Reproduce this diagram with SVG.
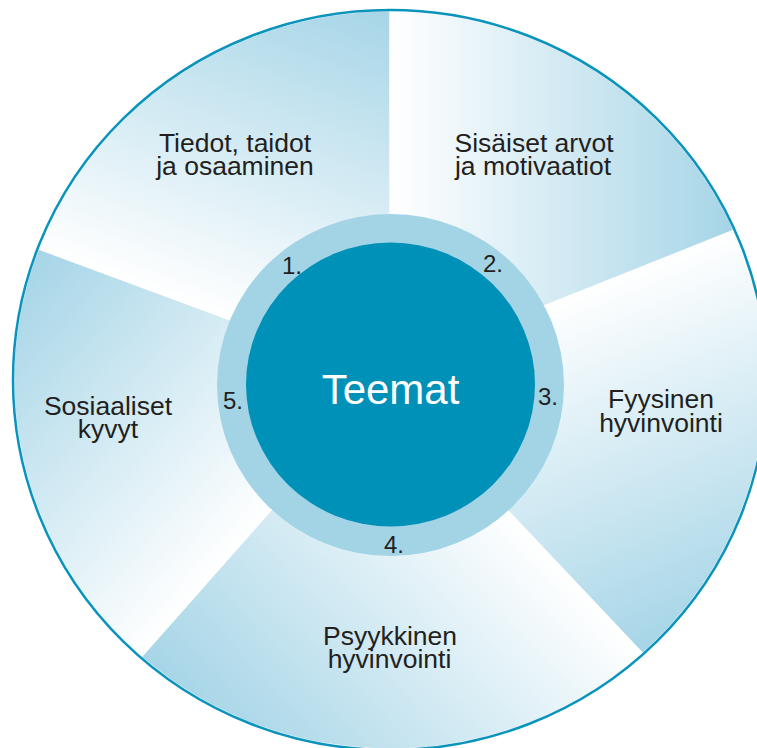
<svg xmlns="http://www.w3.org/2000/svg" width="757" height="748" viewBox="0 0 757 748">
<style>
.lbl{font-family:"Liberation Sans",Arial,sans-serif;font-size:26.5px;fill:#231f20;text-anchor:middle}
.num{font-family:"Liberation Sans",Arial,sans-serif;font-size:24px;fill:#231f20;text-anchor:middle}
.title{font-family:"Liberation Sans",Arial,sans-serif;font-size:42px;fill:#ffffff;text-anchor:middle}
</style>
<defs>
<linearGradient id="g1" gradientUnits="userSpaceOnUse" x1="228" y1="320" x2="347.9" y2="-5.5"><stop offset="0" stop-color="#ffffff"/><stop offset="1" stop-color="#a6d5e7"/></linearGradient>
<linearGradient id="g2" gradientUnits="userSpaceOnUse" x1="391" y1="200" x2="733" y2="200"><stop offset="0" stop-color="#ffffff"/><stop offset="1" stop-color="#a6d5e7"/></linearGradient>
<linearGradient id="g3" gradientUnits="userSpaceOnUse" x1="545" y1="305" x2="678.3" y2="639"><stop offset="0" stop-color="#ffffff"/><stop offset="1" stop-color="#a6d5e7"/></linearGradient>
<linearGradient id="g4" gradientUnits="userSpaceOnUse" x1="508" y1="510" x2="241.2" y2="761.9"><stop offset="0" stop-color="#ffffff"/><stop offset="1" stop-color="#a6d5e7"/></linearGradient>
<linearGradient id="g5" gradientUnits="userSpaceOnUse" x1="272" y1="510" x2="11.6" y2="279.7"><stop offset="0" stop-color="#ffffff"/><stop offset="1" stop-color="#a6d5e7"/></linearGradient>
</defs>
<rect width="757" height="748" fill="#ffffff"/>
<g id="wedges">
<g id="wedge1"><path d="M250,328.1 L38.7,249.8 A375.5,368.5 0 0 1 389.5,11.5 L389.5,230 Z" fill="url(#g1)"/></g>
<g id="wedge2"><path d="M389.5,230 L389.5,11.5 A375.5,368.5 0 0 1 733,230 L507.4,320 Z" fill="url(#g2)"/></g>
<g id="wedge3"><path d="M507.4,320 L733,230 A375.5,368.5 0 0 1 642.6,652.5 L490,491 Z" fill="url(#g3)"/></g>
<g id="wedge4"><path d="M490,491 L642.6,652.5 A375.5,368.5 0 0 1 142.2,656.8 L290,489.6 Z" fill="url(#g4)"/></g>
<g id="wedge5"><path d="M290,489.6 L142.2,656.8 A375.5,368.5 0 0 1 38.7,249.8 L250,328.1 Z" fill="url(#g5)"/></g>
</g>
<ellipse id="outer-border" cx="390" cy="380" rx="377" ry="370" fill="none" stroke="#0a93bb" stroke-width="2.5"/>
<g id="connectors"></g>
<g id="ring"><ellipse cx="390.5" cy="385" rx="173.5" ry="171" fill="#a3d4e6"/></g>
<g id="center"><ellipse cx="390.5" cy="384.5" rx="144.5" ry="142" fill="#0091b9"/>
<text class="title" x="390.5" y="404">Teemat</text></g>
<g id="node1"><text class="lbl" x="235" y="152">Tiedot, taidot</text><text class="lbl" x="235" y="175">ja osaaminen</text><text class="num" x="292" y="274">1.</text></g>
<g id="node2"><text class="lbl" x="534" y="152">Sisäiset arvot</text><text class="lbl" x="533" y="175">ja motivaatiot</text><text class="num" x="493" y="272">2.</text></g>
<g id="node3"><text class="lbl" x="661" y="408">Fyysinen</text><text class="lbl" x="661" y="432">hyvinvointi</text><text class="num" x="548" y="405">3.</text></g>
<g id="node4"><text class="lbl" x="390" y="645">Psyykkinen</text><text class="lbl" x="389.5" y="668">hyvinvointi</text><text class="num" x="394" y="553">4.</text></g>
<g id="node5"><text class="lbl" x="108" y="415">Sosiaaliset</text><text class="lbl" x="108" y="438">kyvyt</text><text class="num" x="233" y="409">5.</text></g>
</svg>
